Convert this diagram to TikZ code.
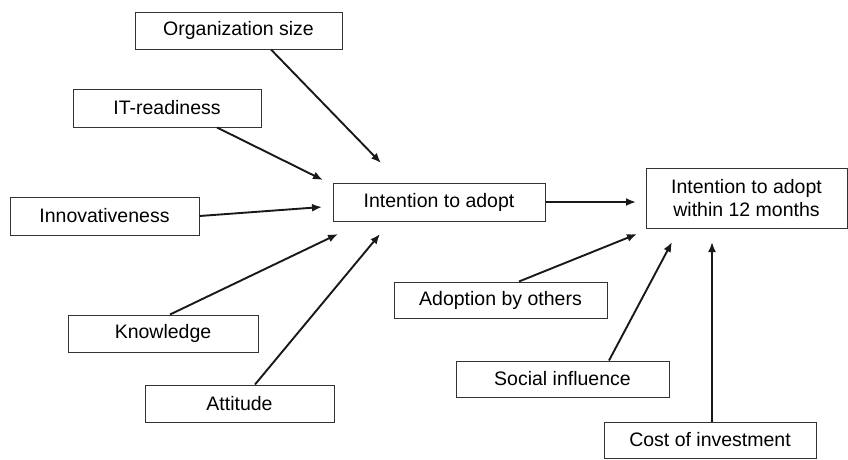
\documentclass[tikz,border=0pt]{standalone}
\usepackage{fontspec}
\setmainfont{Liberation Sans}
\usetikzlibrary{arrows.meta}
\begin{document}
\begin{tikzpicture}[x=1pt,y=-1pt,
  box/.style={draw=black!80,line width=1pt,fill=white,inner sep=0pt,
    font=\fontsize{19.5}{23}\selectfont,align=center},
  link/.style={draw=black!90,line width=1.9pt,-{Latex[length=10pt,width=8pt]}}]
\useasboundingbox (0,0) rectangle (848,459);
\node[box,minimum width=207pt,minimum height=37pt] (org) at (238.5,30.5) {Organization size};
\node[box,minimum width=188pt,minimum height=38pt] (itr) at (167,108) {IT-readiness};
\node[box,minimum width=189pt,minimum height=38pt] (inn) at (104.5,216) {Innovativeness};
\node[box,minimum width=190pt,minimum height=37pt] (know) at (163,333.5) {Knowledge};
\node[box,minimum width=189pt,minimum height=37pt] (att) at (239.5,403.5) {Attitude};
\node[box,minimum width=212pt,minimum height=38pt] (ita) at (439,202) {Intention to adopt};
\node[box,minimum width=201pt,minimum height=60pt] (it12) at (746.5,198) {Intention to adopt\\within 12 months};
\node[box,minimum width=213pt,minimum height=36pt] (abo) at (500.5,300) {Adoption by others};
\node[box,minimum width=213pt,minimum height=36pt] (soc) at (562.5,379) {Social influence};
\node[box,minimum width=212pt,minimum height=36pt] (cost) at (710,440) {Cost of investment};
\coordinate (eorg) at (381,163);
\coordinate (eitr) at (323,180);
\coordinate (einn) at (322,207);
\coordinate (eknow) at (338,234);
\coordinate (eatt) at (380,234);
\coordinate (eita) at (636,202);
\coordinate (eabo) at (637,234);
\coordinate (esoc) at (672,242);
\coordinate (ecost) at (712,242);
\draw[link] ([xshift=32.5pt]org.south) -- (eorg);
\draw[link] ([xshift=50pt]itr.south) -- (eitr);
\draw[link] (inn.east) -- (einn);
\draw[link] ([xshift=7pt]know.north) -- (eknow);
\draw[link] ([xshift=15.5pt]att.north) -- (eatt);
\draw[link] (ita.east) -- (eita);
\draw[link] ([xshift=18.5pt]abo.north) -- (eabo);
\draw[link] ([xshift=46.5pt]soc.north) -- (esoc);
\draw[link] ([xshift=2pt]cost.north) -- (ecost);
\end{tikzpicture}
\end{document}
